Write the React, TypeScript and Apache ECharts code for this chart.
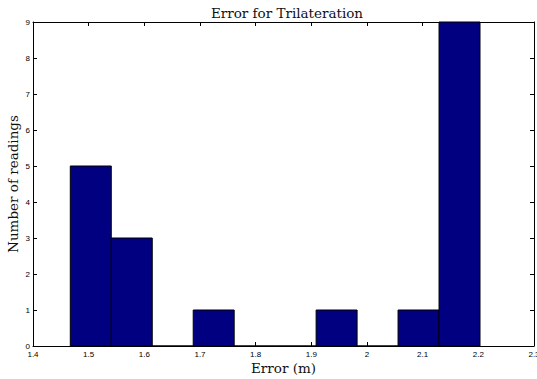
import React, { useEffect, useRef } from "react";
import * as echarts from "echarts";

const title = "Error for Trilateration";
const xAxisName = "Error (m)";
const yAxisName = "Number of readings";
const binCenters = [1.5038, 1.5774, 1.651, 1.7246, 1.7982, 1.8718, 1.9454, 2.019, 2.0926, 2.1662];
const binWidth = 0.0736;
const counts = [5, 3, 0, 1, 0, 0, 1, 0, 1, 9];
const xTicks = [1.4, 1.5, 1.6, 1.7, 1.8, 1.9, 2, 2.1, 2.2, 2.3];

export default function App() {
  const ref = useRef<HTMLDivElement>(null);
  useEffect(() => {
    if (!ref.current) return;
    const chart = echarts.init(ref.current, null, { renderer: "svg" });
    const data = binCenters.map((c, i) => [c, counts[i]]);
    const labelStyle = { color: "#000", fontSize: 8, fontFamily: "Liberation Sans, Arial, sans-serif" };
    const serif = { fontFamily: "DejaVu Serif, serif", fontWeight: "normal" as const, fontSize: 13.5, color: "#111" };
    chart.setOption({
      animation: false,
      backgroundColor: "#fff",
      title: {
        text: title,
        left: 282,
        top: 1,
        textAlign: "center",
        textStyle: serif,
      },
      grid: { left: 33, top: 22, right: 3, bottom: 33, containLabel: false, outerBoundsMode: "none" },
      xAxis: [
        {
          type: "value",
          min: 1.4,
          max: 2.3,
          interval: 0.1,
          name: xAxisName,
          nameLocation: "middle",
          nameGap: 15,
          nameMoveOverlap: false,
          nameTextStyle: serif,
          axisLine: { show: true, onZero: false, lineStyle: { color: "#000", width: 1 } },
          axisTick: { show: true, inside: true, length: 4, lineStyle: { color: "#000" } },
          axisLabel: {
            ...labelStyle,
            margin: 4,
            hideOverlap: false,
            showMaxLabel: true,
            showMinLabel: true,
            formatter: (v: number) => {
              const m = xTicks.find((t) => Math.abs(t - v) < 1e-6);
              return m === undefined ? "" : String(m);
            },
          },
          splitLine: { show: false },
        },
        {
          type: "value",
          position: "top",
          min: 1.4,
          max: 2.3,
          interval: 0.1,
          axisLine: { show: true, onZero: false, lineStyle: { color: "#000", width: 1 } },
          axisTick: { show: true, inside: true, length: 4, lineStyle: { color: "#000" } },
          axisLabel: { show: false },
          splitLine: { show: false },
        },
      ],
      yAxis: [
        {
          type: "value",
          min: 0,
          max: 9,
          interval: 1,
          name: yAxisName,
          nameLocation: "middle",
          nameGap: 13,
          nameMoveOverlap: false,
          nameRotate: 90,
          nameTextStyle: serif,
          axisLine: { show: true, onZero: false, lineStyle: { color: "#000", width: 1 } },
          axisTick: { show: true, inside: true, length: 4, lineStyle: { color: "#000" } },
          axisLabel: { ...labelStyle, margin: 3 },
          splitLine: { show: false },
        },
        {
          type: "value",
          position: "right",
          min: 0,
          max: 9,
          interval: 1,
          axisLine: { show: true, onZero: false, lineStyle: { color: "#000", width: 1 } },
          axisTick: { show: true, inside: true, length: 4, lineStyle: { color: "#000" } },
          axisLabel: { show: false },
          splitLine: { show: false },
        },
      ],
      series: [
        {
          type: "custom",
          xAxisIndex: 0,
          yAxisIndex: 0,
          data,
          encode: { x: 0, y: 1 },
          renderItem: (params: any, api: any) => {
            const c = api.value(0);
            const v = api.value(1);
            const p1 = api.coord([c - binWidth / 2, v]);
            const p2 = api.coord([c + binWidth / 2, 0]);
            return {
              type: "rect",
              shape: { x: p1[0], y: p1[1], width: p2[0] - p1[0], height: p2[1] - p1[1] },
              style: { fill: "#000080", stroke: "#000", lineWidth: 1 },
            };
          },
        },
      ],
    });
    return () => chart.dispose();
  }, []);
  return <div ref={ref} style={{ width: 537, height: 379, position: "absolute", left: 0, top: 0 }} />;
}
